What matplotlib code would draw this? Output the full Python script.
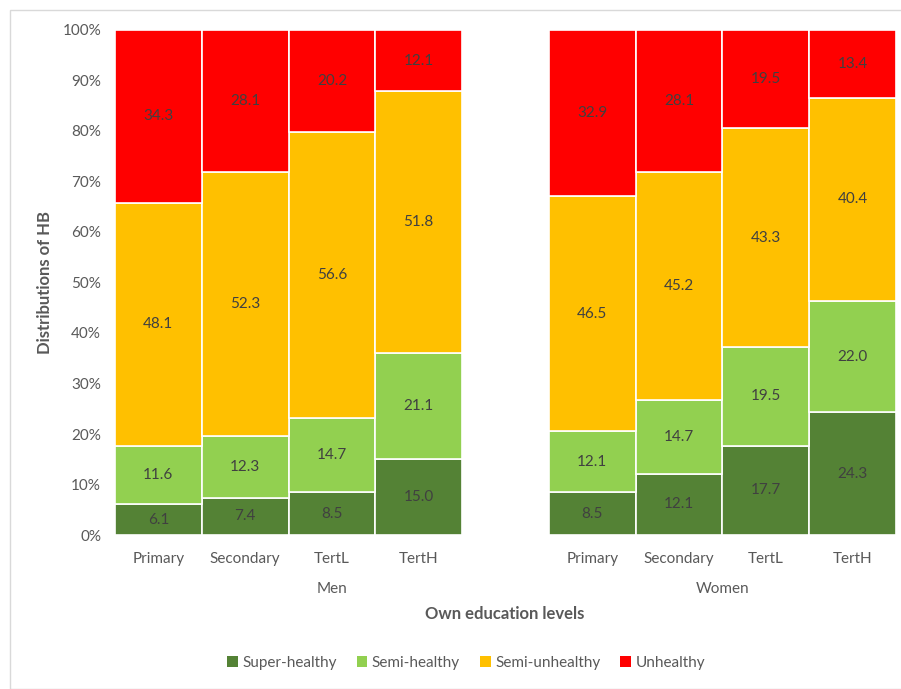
#!/usr/bin/env python3
import matplotlib
matplotlib.use("agg")
import matplotlib.pyplot as plt
from matplotlib.patches import Rectangle, Patch
from matplotlib.transforms import blended_transform_factory
import numpy as np

plt.rcParams["font.family"] = ["Lato", "DejaVu Sans"]

categories = ["Primary", "Secondary", "TertL", "TertH"]
groups = ["Men", "Women"]
series = ["Super-healthy", "Semi-healthy", "Semi-unhealthy", "Unhealthy"]
colors = ["#548235", "#92D050", "#FFC000", "#FF0000"]

men_super = [6.1, 7.4, 8.5, 15.0]
men_semi = [11.6, 12.3, 14.7, 21.1]
men_semi_unh = [48.1, 52.3, 56.6, 51.8]
men_unh = [34.3, 28.1, 20.2, 12.1]

women_super = [8.5, 12.1, 17.7, 24.3]
women_semi = [12.1, 14.7, 19.5, 22.0]
women_semi_unh = [46.5, 45.2, 43.3, 40.4]
women_unh = [32.9, 28.1, 19.5, 13.4]

yticks = [0, 10, 20, 30, 40, 50, 60, 70, 80, 90, 100]

text_col = "#595959"
label_col = "#404040"

fig = plt.figure(figsize=(9.01, 6.89), dpi=100)
ax = fig.add_axes([0.1276, 0.2235, 0.8669, 0.733])

# Men at slots 0-3, empty slot 4, Women at 5-8
xpos = np.array([0, 1, 2, 3, 5, 6, 7, 8])
data = np.array([
    men_super + women_super,
    men_semi + women_semi,
    men_semi_unh + women_semi_unh,
    men_unh + women_unh,
])
totals = data.sum(axis=0)
shares = data / totals * 100

bottom = np.zeros(len(xpos))
for k, name in enumerate(series):
    ax.bar(xpos, shares[k], bottom=bottom, width=1.0, color=colors[k],
           edgecolor="white", linewidth=1.2, label=name)
    for x, b, h, v in zip(xpos, bottom, shares[k], data[k]):
        ax.text(x, b + h / 2, "%.1f" % v, ha="center", va="center",
                fontsize=11, color=label_col)
    bottom += shares[k]

ax.set_xlim(-0.5, 8.5)
ax.set_ylim(0, 100)
ax.set_yticks(yticks)
ax.set_yticklabels(["%d%%" % t for t in yticks], fontsize=11, color=text_col)
ax.set_xticks(xpos)
ax.set_xticklabels(categories * 2, fontsize=11, color=text_col)
ax.tick_params(axis="y", length=0, pad=10)
ax.tick_params(axis="x", length=0, pad=12)
for s in ax.spines.values():
    s.set_visible(False)

trans = blended_transform_factory(ax.transData, fig.transFigure)
ax.text(2, 1 - 589 / 689, "Men", transform=trans, ha="center", va="center",
        fontsize=11, color=text_col)
ax.text(6.5, 1 - 589 / 689, "Women", transform=trans, ha="center", va="center",
        fontsize=11, color=text_col)

fig.text(505 / 901, 1 - 614 / 689, "Own education levels", ha="center",
         va="center", fontsize=12, fontweight="bold", color=text_col)
fig.text(45 / 901, 1 - 282 / 689, "Distributions of HB", ha="center",
         va="center", rotation=90, fontsize=12, fontweight="bold",
         color=text_col)

handles = [Patch(facecolor=c, edgecolor="none") for c in colors]
fig.legend(handles, series, loc="center", bbox_to_anchor=(466 / 901, 1 - 663 / 689),
           ncol=4, frameon=False, fontsize=11, labelcolor=text_col,
           handlelength=0.7, handleheight=0.7, handletextpad=0.3,
           columnspacing=1.3)

# chart area border
fig.patches.append(Rectangle((10 / 901, 0), 1, 1 - 10 / 689, transform=fig.transFigure,
                             facecolor="none", edgecolor="#D9D9D9", linewidth=1))

fig.savefig("out.png", dpi=100)
